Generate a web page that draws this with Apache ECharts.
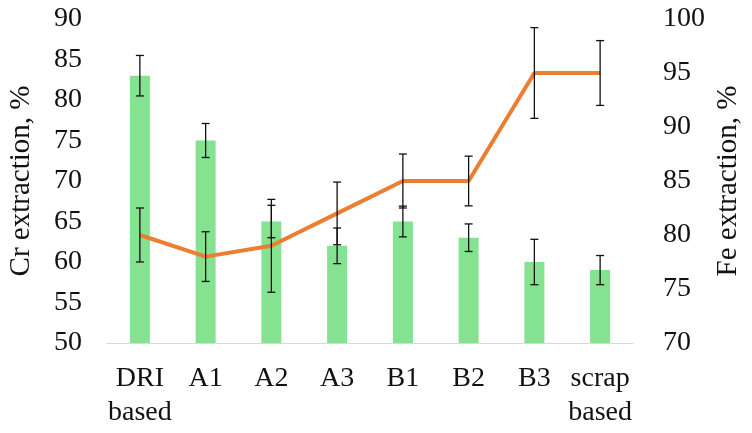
<!DOCTYPE html>
<html>
<head>
<meta charset="utf-8">
<script src="https://cdn.jsdelivr.net/npm/echarts@6/dist/echarts.min.js"></script>
<style>
  html, body { margin: 0; padding: 0; background: #fff; }
  #main { width: 752px; height: 433px; }
</style>
</head>
<body>
<div id="main"></div>
<script>
// categories and values
var categories = ['DRI\nbased', 'A1', 'A2', 'A3', 'B1', 'B2', 'B3', 'scrap\nbased'];
var crValues = [83, 75, 65, 62, 65, 63, 60, 59];
var crErrors = [2.5, 2.1, 2.0, 2.2, 1.9, 1.7, 2.8, 1.8];
var feValues = [80, 78, 79, 82, 85, 85, 95, 95];
var feErrors = [2.5, 2.3, 4.3, 2.9, 2.5, 2.3, 4.2, 3.0];

var serif = 'Liberation Serif';

// [index, low, high] rows for the error bars
function errorRows(values, errors) {
  return values.map(function (v, i) {
    return [i, v - errors[i], v + errors[i]];
  });
}

function renderError(params, api) {
  var x = api.value(0);
  var lo = api.coord([x, api.value(1)]);
  var hi = api.coord([x, api.value(2)]);
  var half = 4;
  var style = { stroke: '#111', lineWidth: 1.3 };
  return {
    type: 'group',
    children: [
      { type: 'line', shape: { x1: hi[0], y1: hi[1], x2: lo[0], y2: lo[1] }, style: style },
      { type: 'line', shape: { x1: hi[0] - half, y1: hi[1], x2: hi[0] + half, y2: hi[1] }, style: style },
      { type: 'line', shape: { x1: lo[0] - half, y1: lo[1], x2: lo[0] + half, y2: lo[1] }, style: style }
    ]
  };
}

var chart = echarts.init(document.getElementById('main'), null, { renderer: 'canvas' });

var option = {
  backgroundColor: '#ffffff',
  animation: false,
  grid: { left: 107, right: 119, top: 19, bottom: 90, outerBoundsMode: 'none', containLabel: false },
  xAxis: {
    type: 'category',
    data: categories,
    axisLine: { lineStyle: { color: '#d9d9d9', width: 1 } },
    axisTick: { show: false },
    axisLabel: {
      color: '#111',
      fontFamily: serif,
      fontSize: 28,
      lineHeight: 34,
      margin: 19,
      interval: 0
    }
  },
  yAxis: [{
    type: 'value',
    min: 50,
    max: 90,
    interval: 5,
    name: 'Cr extraction, %',
    nameLocation: 'middle',
    nameRotate: 90,
    nameGap: 71,
    nameMoveOverlap: false,
    nameTextStyle: { color: '#111', fontFamily: serif, fontSize: 29 },
    axisLine: { show: false },
    axisTick: { show: false },
    splitLine: { show: false },
    axisLabel: { color: '#111', fontFamily: serif, fontSize: 28, margin: 25 }
  }, {
    type: 'value',
    min: 70,
    max: 100,
    interval: 5,
    name: 'Fe extraction, %',
    nameLocation: 'middle',
    nameRotate: 90,
    nameGap: 81,
    nameMoveOverlap: false,
    nameTextStyle: { color: '#111', fontFamily: serif, fontSize: 29 },
    axisLine: { show: false },
    axisTick: { show: false },
    splitLine: { show: false },
    axisLabel: { color: '#111', fontFamily: serif, fontSize: 28, margin: 30 }
  }],
  series: [
    {
      type: 'bar',
      name: 'Cr',
      yAxisIndex: 0,
      barWidth: 20,
      itemStyle: { color: '#84E291' },
      data: crValues,
      z: 1
    },
    {
      type: 'line',
      name: 'Fe',
      yAxisIndex: 1,
      symbol: 'none',
      lineStyle: { color: '#ED7D31', width: 4 },
      data: feValues,
      z: 2
    },
    {
      type: 'custom',
      yAxisIndex: 0,
      renderItem: renderError,
      encode: { x: 0, y: [1, 2] },
      data: errorRows(crValues, crErrors),
      z: 3
    },
    {
      type: 'custom',
      yAxisIndex: 1,
      renderItem: renderError,
      encode: { x: 0, y: [1, 2] },
      data: errorRows(feValues, feErrors),
      z: 3
    }
  ]
};
chart.setOption(option);
</script>
</body>
</html>
